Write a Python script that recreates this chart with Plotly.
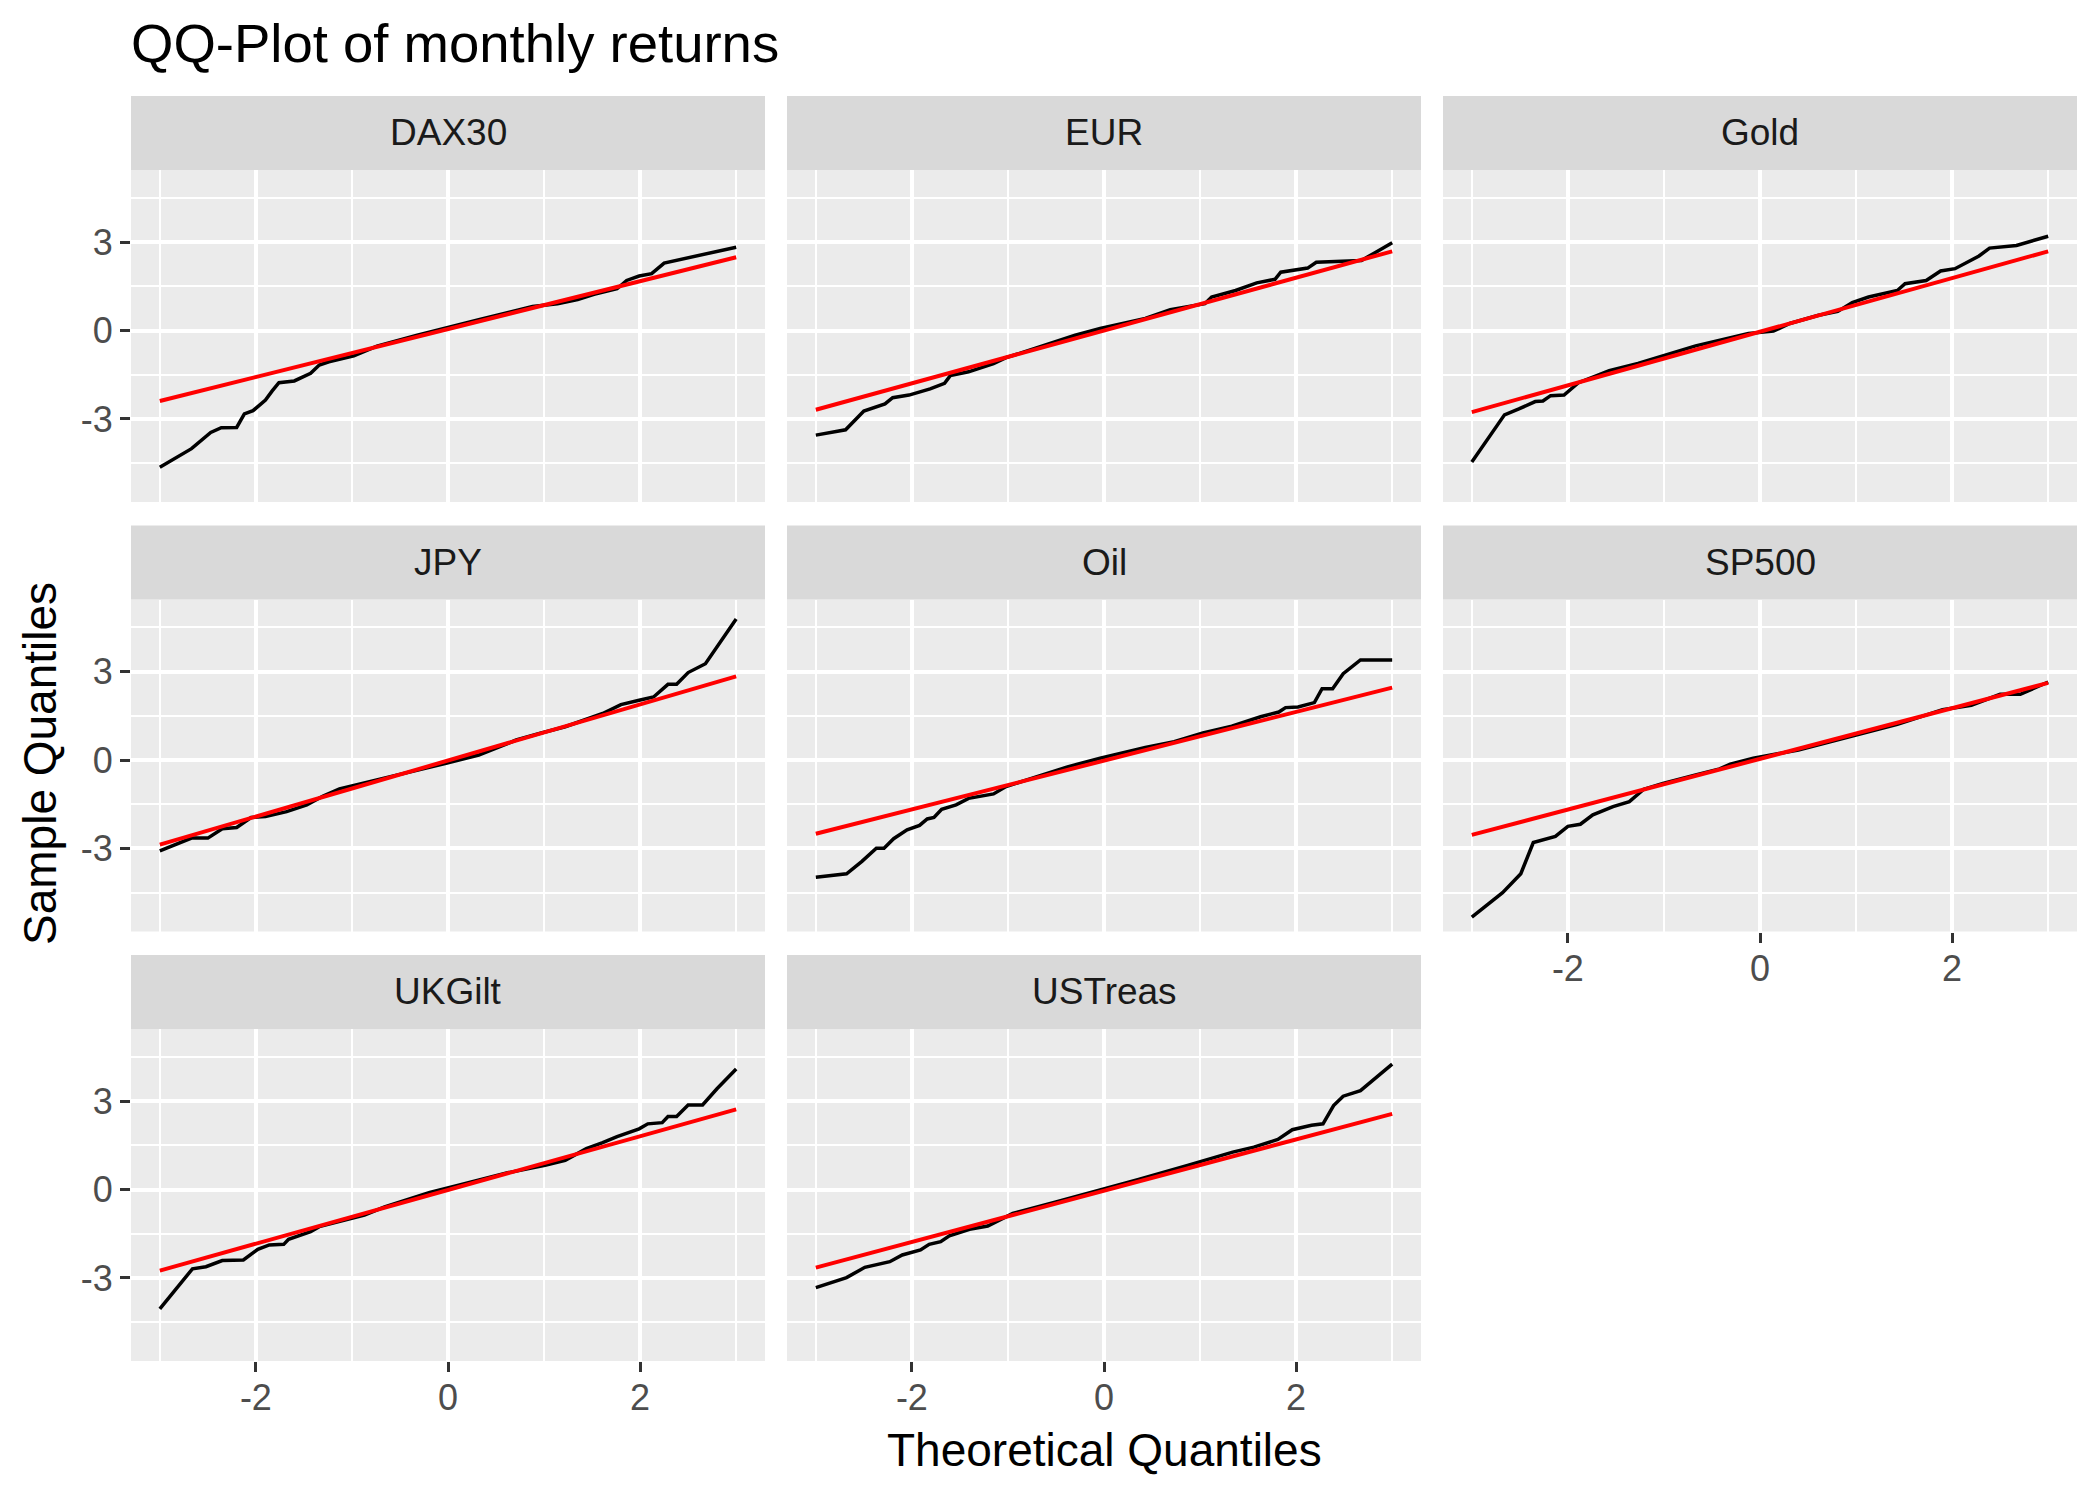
import plotly.graph_objects as go

# page has an 8px body margin; figure is sized to fit inside the window
OFF = 8
W, H = 2100 - 2 * OFF, 1499 - 2 * OFF

# ---------------- data ----------------
panel_names = ["DAX30", "EUR", "Gold", "JPY", "Oil", "SP500", "UKGilt", "USTreas"]

dax_x = [-3.0, -2.67, -2.47, -2.36, -2.20, -2.12, -2.03, -1.90, -1.83, -1.76, -1.60, -1.47, -1.43, -1.34, -1.24, -0.98, -0.74, -0.32, 0.0, 0.32, 0.88, 1.14, 1.35, 1.52, 1.76, 1.86, 1.99, 2.12, 2.25, 2.38, 2.68, 3.0]
dax_y = [-4.64, -4.01, -3.46, -3.30, -3.29, -2.83, -2.72, -2.36, -2.05, -1.77, -1.71, -1.51, -1.45, -1.17, -1.06, -0.86, -0.53, -0.16, 0.12, 0.37, 0.82, 0.91, 1.05, 1.23, 1.42, 1.70, 1.85, 1.93, 2.29, 2.38, 2.60, 2.83]

eur_x = [-3.0, -2.69, -2.50, -2.28, -2.20, -2.03, -1.81, -1.66, -1.60, -1.41, -1.15, -1.02, -0.72, -0.42, -0.30, -0.04, 0.43, 0.69, 1.05, 1.12, 1.37, 1.59, 1.78, 1.84, 2.12, 2.21, 2.53, 2.68, 2.83, 3.0]
eur_y = [-3.55, -3.37, -2.73, -2.49, -2.28, -2.19, -1.98, -1.79, -1.53, -1.40, -1.12, -0.92, -0.61, -0.27, -0.16, 0.07, 0.41, 0.71, 0.91, 1.14, 1.36, 1.62, 1.74, 1.98, 2.12, 2.32, 2.38, 2.38, 2.66, 2.98]

gold_x = [-3.0, -2.66, -2.51, -2.34, -2.26, -2.18, -2.04, -1.89, -1.70, -1.57, -1.27, -0.93, -0.67, -0.12, 0.14, 0.31, 0.61, 0.81, 0.96, 1.13, 1.43, 1.51, 1.73, 1.88, 2.03, 2.28, 2.39, 2.67, 3.0]
gold_y = [-4.46, -2.86, -2.66, -2.41, -2.39, -2.21, -2.19, -1.77, -1.53, -1.36, -1.12, -0.78, -0.52, -0.10, -0.02, 0.24, 0.52, 0.65, 0.95, 1.14, 1.36, 1.59, 1.70, 2.02, 2.10, 2.53, 2.80, 2.89, 3.20]

jpy_x = [-3.0, -2.67, -2.50, -2.35, -2.20, -2.05, -1.90, -1.68, -1.47, -1.30, -1.13, -0.74, -0.32, -0.02, 0.32, 0.71, 0.97, 1.22, 1.61, 1.80, 1.99, 2.14, 2.29, 2.38, 2.50, 2.68, 3.0]
jpy_y = [-3.08, -2.65, -2.65, -2.33, -2.29, -1.95, -1.92, -1.75, -1.52, -1.22, -0.98, -0.68, -0.34, -0.11, 0.17, 0.68, 0.92, 1.13, 1.58, 1.88, 2.03, 2.14, 2.57, 2.57, 2.97, 3.27, 4.79]

oil_x = [-3.0, -2.68, -2.52, -2.37, -2.29, -2.19, -2.05, -1.92, -1.84, -1.77, -1.69, -1.54, -1.41, -1.15, -1.02, -0.72, -0.38, -0.04, 0.43, 0.73, 1.03, 1.33, 1.63, 1.82, 1.89, 2.02, 2.19, 2.27, 2.38, 2.49, 2.67, 3.0]
oil_y = [-3.98, -3.86, -3.44, -2.99, -2.99, -2.67, -2.37, -2.22, -2.00, -1.95, -1.67, -1.52, -1.30, -1.15, -0.90, -0.59, -0.23, 0.06, 0.43, 0.62, 0.92, 1.15, 1.47, 1.63, 1.78, 1.80, 1.95, 2.42, 2.42, 2.93, 3.40, 3.40]

sp500_x = [-3.0, -2.68, -2.49, -2.36, -2.13, -2.00, -1.87, -1.74, -1.53, -1.36, -1.21, -1.01, -0.67, -0.42, -0.31, -0.07, 0.40, 0.87, 1.43, 1.90, 2.20, 2.50, 2.71, 3.0]
sp500_y = [-5.33, -4.50, -3.86, -2.80, -2.59, -2.25, -2.18, -1.86, -1.58, -1.41, -0.99, -0.79, -0.51, -0.30, -0.14, 0.06, 0.34, 0.73, 1.21, 1.71, 1.86, 2.23, 2.23, 2.65]

ukgilt_x = [-3.0, -2.66, -2.52, -2.35, -2.13, -1.98, -1.86, -1.71, -1.66, -1.43, -1.34, -0.87, -0.66, -0.19, 0.11, 0.62, 1.01, 1.22, 1.44, 1.61, 1.76, 1.99, 2.08, 2.23, 2.29, 2.38, 2.50, 2.65, 2.80, 3.0]
ukgilt_y = [-4.05, -2.69, -2.62, -2.41, -2.39, -2.03, -1.88, -1.86, -1.69, -1.43, -1.26, -0.87, -0.59, -0.10, 0.15, 0.57, 0.82, 0.99, 1.39, 1.59, 1.80, 2.06, 2.23, 2.27, 2.48, 2.48, 2.87, 2.87, 3.42, 4.09]

ustreas_x = [-3.0, -2.68, -2.49, -2.23, -2.10, -1.91, -1.82, -1.70, -1.61, -1.40, -1.21, -0.95, -0.50, 0.01, 0.36, 0.87, 1.34, 1.56, 1.81, 1.96, 2.16, 2.28, 2.39, 2.49, 2.67, 3.0]
ustreas_y = [-3.33, -2.99, -2.64, -2.45, -2.22, -2.05, -1.86, -1.77, -1.57, -1.35, -1.24, -0.81, -0.42, 0.03, 0.34, 0.82, 1.27, 1.44, 1.70, 2.03, 2.18, 2.23, 2.85, 3.17, 3.36, 4.26]

# reference-line end points (qqline) at the extreme theoretical quantiles
line_x = [-3.0, 3.0]
line_y_dax = [-2.39, 2.49]
line_y_eur = [-2.69, 2.69]
line_y_gold = [-2.77, 2.69]
line_y_jpy = [-2.87, 2.84]
line_y_oil = [-2.50, 2.46]
line_y_sp500 = [-2.54, 2.62]
line_y_ukgilt = [-2.75, 2.72]
line_y_ustreas = [-2.65, 2.57]

x_tick_vals = [-2, 0, 2]
x_tick_text = ["-2", "0", "2"]
y_tick_vals = [-3, 0, 3]
y_tick_text = ["-3", "0", "3"]

series = [
    (dax_x, dax_y, line_y_dax),
    (eur_x, eur_y, line_y_eur),
    (gold_x, gold_y, line_y_gold),
    (jpy_x, jpy_y, line_y_jpy),
    (oil_x, oil_y, line_y_oil),
    (sp500_x, sp500_y, line_y_sp500),
    (ukgilt_x, ukgilt_y, line_y_ukgilt),
    (ustreas_x, ustreas_y, line_y_ustreas),
]

# ---------------- layout geometry (page pixels) ----------------
col_left = [131, 787, 1443]
panel_w = 634
strip_top = [96, 525.5, 955]
strip_h = 74
panel_h = 332

FONT = "Liberation Sans, Arial, sans-serif"
X_RANGE = [-3.3, 3.3]
Y_RANGE = [-5.82, 5.45]


def px(xp):
    return (xp - OFF) / W


def py(yp):
    return 1 - (yp - OFF) / H


fig = go.Figure()
layout = dict(
    width=W, height=H,
    margin=dict(l=0, r=0, t=0, b=0),
    paper_bgcolor="white",
    plot_bgcolor="#EBEBEB",
    showlegend=False,
    font=dict(family=FONT),
)
shapes = []
annotations = []

for i, name in enumerate(panel_names):
    r, c = divmod(i, 3)
    x0 = col_left[c]
    x1 = x0 + panel_w
    st = strip_top[r]
    p_top = st + strip_h
    p_bot = p_top + panel_h
    ax = "" if i == 0 else str(i + 1)
    show_x = (name in ("SP500", "UKGilt", "USTreas"))
    show_y = (c == 0)
    layout["xaxis" + ax] = dict(
        domain=[px(x0), px(x1)], anchor="y" + ax, range=X_RANGE,
        tickvals=x_tick_vals, ticktext=x_tick_text, showticklabels=show_x,
        ticks="outside" if show_x else "", ticklen=10, tickwidth=3, tickcolor="#333333",
        ticklabelstandoff=-5,
        tickfont=dict(size=36, color="#4D4D4D", family=FONT),
        showgrid=True, gridcolor="white", gridwidth=4,
        minor=dict(dtick=1, tick0=1, showgrid=True, gridcolor="white", gridwidth=2, ticks=""),
        zeroline=False, showline=False, fixedrange=True,
    )
    layout["yaxis" + ax] = dict(
        domain=[py(p_bot), py(p_top)], anchor="x" + ax, range=Y_RANGE,
        tickvals=y_tick_vals, ticktext=y_tick_text, showticklabels=show_y,
        ticks="outside" if show_y else "", ticklen=10, tickwidth=3, tickcolor="#333333",
        tickfont=dict(size=36, color="#4D4D4D", family=FONT),
        showgrid=True, gridcolor="white", gridwidth=4,
        minor=dict(dtick=1.5, tick0=1.5, showgrid=True, gridcolor="white", gridwidth=2, ticks=""),
        zeroline=False, showline=False, fixedrange=True,
    )
    sx, sy, ly = series[i]
    fig.add_trace(go.Scatter(x=sx, y=sy, mode="lines", line=dict(color="black", width=3.5),
                             xaxis="x" + ax, yaxis="y" + ax, hoverinfo="skip"))
    fig.add_trace(go.Scatter(x=line_x, y=ly, mode="lines", line=dict(color="#FF0000", width=4),
                             xaxis="x" + ax, yaxis="y" + ax, hoverinfo="skip"))
    # facet strip
    shapes.append(dict(type="rect", xref="paper", yref="paper",
                       x0=px(x0), x1=px(x1), y0=py(p_top), y1=py(st),
                       fillcolor="#D9D9D9", line=dict(width=0), layer="below"))
    annotations.append(dict(text=name, xref="paper", yref="paper",
                            x=px((x0 + x1) / 2), y=py(st + strip_h / 2),
                            xanchor="center", yanchor="middle", showarrow=False,
                            font=dict(size=37, color="#1A1A1A", family=FONT)))

# title and axis titles
annotations.append(dict(text="QQ-Plot of monthly returns", xref="paper", yref="paper",
                        x=px(129), y=py(44), xanchor="left", yanchor="middle",
                        showarrow=False, font=dict(size=54.5, color="black", family=FONT)))
annotations.append(dict(text="Theoretical Quantiles", xref="paper", yref="paper",
                        x=px(1104), y=py(1450), xanchor="center", yanchor="middle",
                        showarrow=False, font=dict(size=46, color="black", family=FONT)))
annotations.append(dict(text="Sample Quantiles", xref="paper", yref="paper",
                        x=px(40), y=py(764), xanchor="center", yanchor="middle",
                        textangle=-90, showarrow=False,
                        font=dict(size=46, color="black", family=FONT)))

layout["shapes"] = shapes
layout["annotations"] = annotations
fig.update_layout(**layout)
fig.write_html("out.html")
